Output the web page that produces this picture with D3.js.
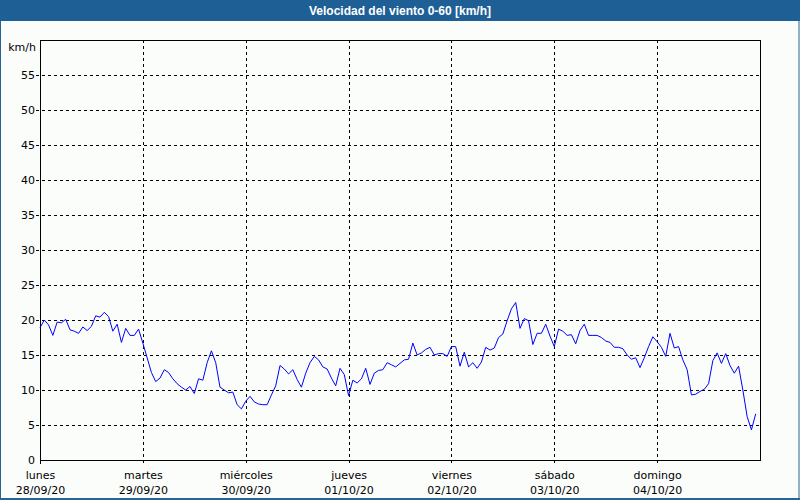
<!DOCTYPE html>
<html><head><meta charset="utf-8">
<script src="https://cdn.jsdelivr.net/npm/d3@7"></script>
<style>body{margin:0;background:#fff}svg{display:block}</style>
</head><body>
<script>
const title = "Velocidad del viento 0-60 [km/h]";
const unitLabel = "km/h";
const dayNames = ["lunes","martes","miércoles","jueves","viernes","sábado","domingo"];
const dayDates = ["28/09/20","29/09/20","30/09/20","01/10/20","02/10/20","03/10/20","04/10/20"];
const yTicks = [0,5,10,15,20,25,30,35,40,45,50,55];
// hourly wind speed (km/h), starting Mon 28/09/20 00:00
const windSpeed = [
 18.9,20.0,19.3,17.8,19.7,19.6,20.1,18.6,18.4,18.1,19.0,18.5,19.1,20.6,20.4,21.1,20.5,18.4,19.4,16.8,18.8,17.8,17.8,18.7,
 16.7,14.6,12.5,11.2,11.7,12.9,12.5,11.6,10.9,10.4,10.0,10.5,9.5,11.6,11.4,13.9,15.6,13.9,10.4,10.0,9.6,9.7,7.9,7.3,
 8.4,9.1,8.3,8.0,7.9,7.9,9.3,10.6,13.5,13.0,12.3,12.9,11.5,10.4,12.4,13.9,14.8,14.3,13.3,13.0,11.7,10.6,13.1,12.2,
 9.2,11.4,11.0,11.6,13.1,10.8,12.4,12.8,12.9,13.9,13.6,13.3,13.8,14.3,14.4,16.7,15.0,15.3,15.8,16.1,15.0,15.2,15.2,14.8,
 16.2,16.2,13.4,15.4,13.3,13.9,13.1,14.0,16.1,15.7,16.0,17.5,18.0,19.9,21.6,22.5,18.8,20.2,19.9,16.5,18.1,18.1,19.4,17.7,
 16.2,18.7,18.4,17.8,17.9,16.6,18.5,19.4,17.8,17.8,17.8,17.5,17.0,16.8,16.1,16.1,15.9,15.0,14.4,14.6,13.2,14.6,16.2,17.6,
 16.9,16.1,14.8,18.1,16.0,16.2,14.3,12.9,9.3,9.4,9.8,10.1,10.9,14.2,15.3,13.8,15.2,13.5,12.4,13.4,10.0,6.2,4.3,6.6
];

const W = 800, H = 500;
const svg = d3.select("body").append("svg").attr("width", W).attr("height", H);
const font = "Tahoma, 'DejaVu Sans', Verdana, sans-serif";

svg.append("rect").attr("x",0).attr("y",0).attr("width",W).attr("height",H).attr("fill","#fbfdfb");
svg.append("rect").attr("x",0.5).attr("y",0.5).attr("width",W-1.5).attr("height",H-1.5)
  .attr("fill","none").attr("stroke","#2a6496").attr("stroke-width",1);
svg.append("rect").attr("x",0).attr("y",498).attr("width",W).attr("height",2).attr("fill","#2a6496");
svg.append("rect").attr("x",0).attr("y",0).attr("width",W).attr("height",21).attr("fill","#1e5f96");
svg.append("text").attr("x",W/2).attr("y",15).attr("text-anchor","middle")
  .attr("font-family","'Liberation Sans', Arial, sans-serif").attr("font-weight","bold").attr("font-size",12)
  .attr("fill","#fff").text(title);

const L = 40, T = 40, R = 760, B = 460;
const x = d3.scaleLinear().domain([0, 7*24]).range([L, R]);
const y = d3.scaleLinear().domain([0, 60]).range([B, T]);

const g = svg.append("g");
// horizontal grid
g.selectAll("line.hg").data(yTicks.filter(d=>d>0)).enter().append("line")
  .attr("x1", L-4).attr("x2", R).attr("y1", d=>Math.round(y(d))+0.5).attr("y2", d=>Math.round(y(d))+0.5)
  .attr("stroke","#000").attr("stroke-dasharray","3,3").attr("stroke-width",1);
// vertical grid
g.selectAll("line.vg").data(d3.range(1,7)).enter().append("line")
  .attr("x1", d=>Math.round(x(d*24))+0.5).attr("x2", d=>Math.round(x(d*24))+0.5)
  .attr("y1", T).attr("y2", B+3)
  .attr("stroke","#000").attr("stroke-dasharray","3,3").attr("stroke-width",1);

// frame
svg.append("rect").attr("x",L+0.5).attr("y",T+0.5).attr("width",R-L).attr("height",B-T)
  .attr("fill","none").attr("stroke","#000").attr("stroke-width",1);

// y axis labels
const ya = svg.append("g").attr("transform",`translate(${L},0)`)
  .call(d3.axisLeft(y).tickValues(yTicks).tickSize(0).tickPadding(5));
ya.select(".domain").remove();
ya.selectAll("text").attr("font-family",font).attr("font-size",11).attr("fill","#000");
svg.append("text").attr("x",36).attr("y",51).attr("text-anchor","end")
  .attr("font-family",font).attr("font-size",11).attr("fill","#000").text(unitLabel);
svg.append("line").attr("x1",L+0.5).attr("x2",L+0.5).attr("y1",B).attr("y2",B+4).attr("stroke","#000");

// x axis labels
const xa = svg.append("g").attr("transform",`translate(0,${B})`)
  .call(d3.axisBottom(x).tickValues(d3.range(0,7).map(d=>d*24)).tickSize(0).tickFormat(""));
xa.select(".domain").remove();
xa.selectAll(".tick").each(function(d,i){
  const t = d3.select(this);
  t.append("text").attr("y",19).attr("text-anchor","middle").attr("font-family",font)
    .attr("font-size",11).attr("fill","#000").text(dayNames[i]);
  t.append("text").attr("y",34).attr("text-anchor","middle").attr("font-family",font)
    .attr("font-size",11).attr("fill","#000").text(dayDates[i]);
});

// line
const line = d3.line().x((d,i)=>x(i)).y(d=>y(d));
svg.append("path").datum(windSpeed).attr("d",line).attr("fill","none")
  .attr("stroke","#0000ff").attr("stroke-width",1);
</script>
</body></html>
